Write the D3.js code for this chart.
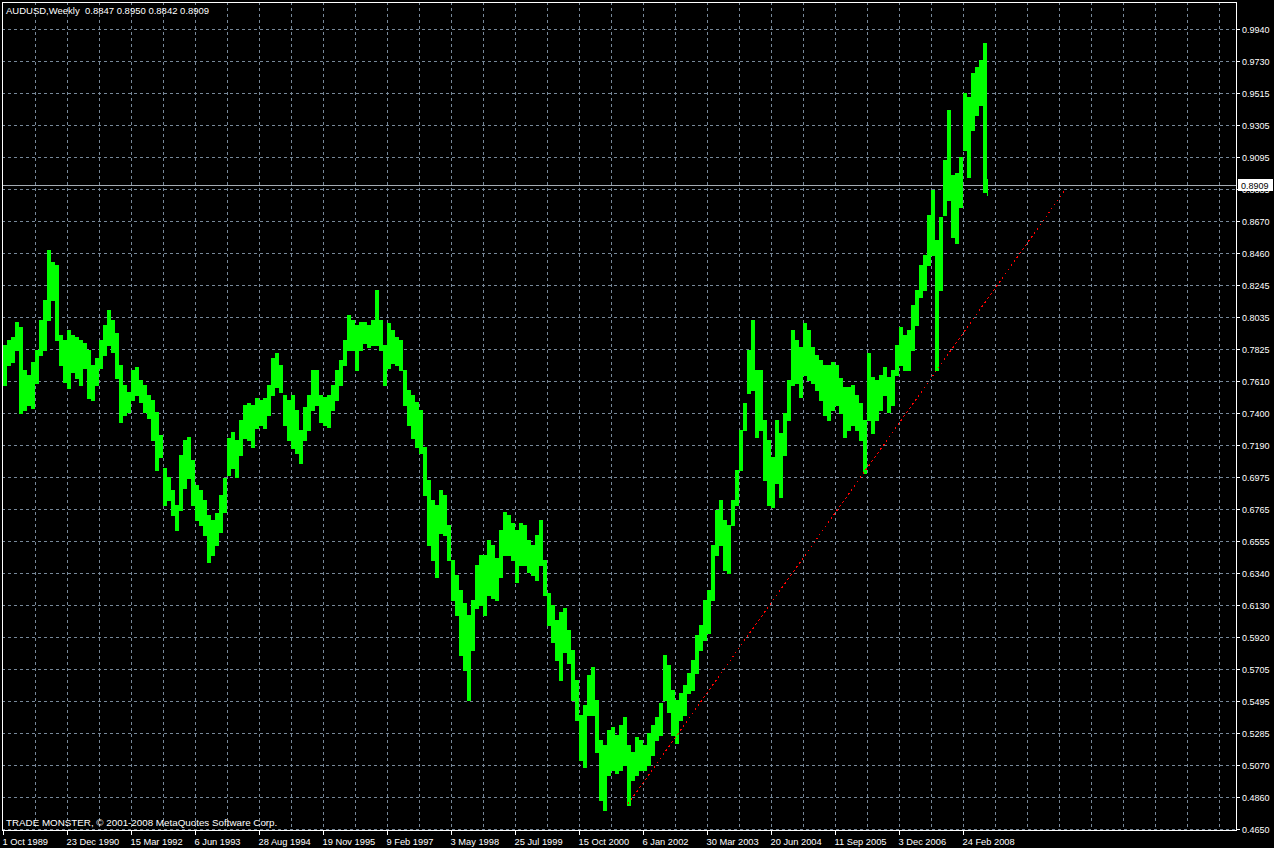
<!DOCTYPE html>
<html>
<head>
<meta charset="utf-8">
<script src="https://cdn.jsdelivr.net/npm/d3@7"></script>
<style>
  html, body { margin: 0; padding: 0; background: #000; }
  svg { display: block; }
  text { font-family: "Liberation Sans", Arial, sans-serif; white-space: pre; }
</style>
</head>
<body>
<svg id="chart" width="1274" height="848"></svg>
<script>
// ---------- DATA ----------
const symbol = "AUDUSD,Weekly";
const lastOHLC = [0.8847, 0.8950, 0.8842, 0.8909];
const currentPrice = 0.8909;
const copyright = "TRADE MONSTER, \u00A9 2001-2008 MetaQuotes Software Corp.";

// bars: one entry per 4 weeks (high / low), starting 1 Oct 1989; last entry = final week
const weeksPerBar = 4;
const totalWeeks = 985;
const highs = [
0.7850,0.7883,0.7903,0.8003,0.7970,0.7685,0.7652,0.7738,0.7817,0.8016,
0.8148,0.8479,0.8399,0.8379,0.7917,0.7883,0.7950,0.7917,0.7903,0.7883,
0.7863,0.7817,0.7718,0.7764,0.7883,0.7983,0.8082,0.8016,0.7930,0.7718,
0.7586,0.7540,0.7685,0.7705,0.7619,0.7586,0.7520,0.7487,0.7408,0.7255,
0.7037,0.6978,0.6892,0.6792,0.7123,0.7222,0.7242,0.7090,0.6925,0.6892,
0.6825,0.6726,0.6693,0.6739,0.6858,0.6971,0.7235,0.7275,0.7222,0.7354,
0.7454,0.7467,0.7454,0.7500,0.7487,0.7500,0.7586,0.7764,0.7797,0.7718,
0.7520,0.7487,0.7520,0.7421,0.7288,0.7441,0.7520,0.7685,0.7685,0.7520,
0.7507,0.7520,0.7586,0.7685,0.7751,0.7883,0.8049,0.8016,0.7983,0.8003,
0.8003,0.7983,0.8016,0.8214,0.8016,0.7850,0.7996,0.7950,0.7903,0.7883,
0.7685,0.7553,0.7520,0.7474,0.7421,0.7176,0.6958,0.6825,0.6792,0.6892,
0.6858,0.6660,0.6429,0.6330,0.6230,0.6144,0.6065,0.6164,0.6396,0.6462,
0.6462,0.6561,0.6528,0.6442,0.6627,0.6746,0.6726,0.6673,0.6627,0.6673,
0.6660,0.6561,0.6528,0.6594,0.6693,0.6429,0.6210,0.6131,0.6032,0.6085,
0.6111,0.5966,0.5834,0.5635,0.5404,0.5470,0.5668,0.5721,0.5503,0.5239,
0.5205,0.5305,0.5324,0.5272,0.5338,0.5391,0.5205,0.5159,0.5258,0.5239,
0.5205,0.5285,0.5338,0.5391,0.5483,0.5801,0.5734,0.5569,0.5503,0.5549,
0.5602,0.5681,0.5768,0.5933,0.5999,0.6164,0.6230,0.6528,0.6759,0.6825,
0.6693,0.6660,0.6825,0.7024,0.7288,0.7467,0.7817,0.8016,0.7685,0.7685,
0.7354,0.7222,0.7110,0.7354,0.7268,0.7401,0.7619,0.7950,0.7883,0.7837,
0.7996,0.7950,0.7837,0.7784,0.7751,0.7718,0.7718,0.7738,0.7718,0.7632,
0.7573,0.7573,0.7586,0.7520,0.7467,0.7354,0.7797,0.7639,0.7619,0.7652,
0.7705,0.7639,0.7685,0.7850,0.7970,0.7917,0.7950,0.8115,0.8214,0.8379,
0.8445,0.8710,0.8875,0.8545,0.8697,0.9074,0.9404,0.8975,0.8988,0.9094,
0.9517,0.9490,0.9649,0.9689,0.9735,0.9847,0.8950
];
const lows = [
0.7586,0.7718,0.7738,0.7817,0.7401,0.7421,0.7454,0.7434,0.7599,0.7784,
0.7817,0.8016,0.8148,0.7883,0.7718,0.7606,0.7566,0.7672,0.7632,0.7586,
0.7698,0.7500,0.7487,0.7586,0.7698,0.7784,0.7850,0.7804,0.7632,0.7341,
0.7388,0.7408,0.7487,0.7520,0.7474,0.7408,0.7368,0.7222,0.7024,0.7110,
0.6792,0.6825,0.6726,0.6627,0.6759,0.6905,0.6971,0.6792,0.6693,0.6660,
0.6594,0.6416,0.6462,0.6528,0.6614,0.6746,0.6991,0.7037,0.6978,0.7123,
0.7235,0.7222,0.7176,0.7302,0.7321,0.7302,0.7388,0.7520,0.7573,0.7540,
0.7321,0.7222,0.7169,0.7136,0.7070,0.7222,0.7288,0.7421,0.7454,0.7341,
0.7321,0.7308,0.7421,0.7487,0.7586,0.7718,0.7817,0.7817,0.7685,0.7817,
0.7863,0.7837,0.7850,0.7850,0.7817,0.7586,0.7698,0.7731,0.7718,0.7685,
0.7454,0.7321,0.7235,0.7176,0.7136,0.6858,0.6528,0.6429,0.6316,0.6607,
0.6594,0.6429,0.6164,0.6065,0.5801,0.5701,0.5503,0.5834,0.6111,0.6131,
0.6065,0.6197,0.6177,0.6164,0.6316,0.6462,0.6462,0.6429,0.6283,0.6396,
0.6396,0.6350,0.6330,0.6296,0.6396,0.6197,0.5999,0.5887,0.5768,0.5635,
0.5820,0.5748,0.5503,0.5371,0.5106,0.5060,0.5404,0.5404,0.5159,0.4842,
0.4776,0.5007,0.5040,0.5020,0.5040,0.5073,0.4809,0.4974,0.5007,0.5040,
0.5040,0.5073,0.5139,0.5239,0.5272,0.5503,0.5424,0.5272,0.5219,0.5371,
0.5404,0.5549,0.5569,0.5681,0.5834,0.5900,0.5946,0.6164,0.6462,0.6528,
0.6363,0.6343,0.6660,0.6792,0.7024,0.7288,0.7533,0.7553,0.7242,0.7288,
0.6958,0.6792,0.6779,0.6938,0.6845,0.7123,0.7354,0.7586,0.7599,0.7507,
0.7652,0.7619,0.7599,0.7553,0.7487,0.7388,0.7354,0.7421,0.7454,0.7401,
0.7242,0.7288,0.7321,0.7288,0.7222,0.7004,0.7354,0.7268,0.7354,0.7421,
0.7520,0.7408,0.7454,0.7652,0.7718,0.7685,0.7685,0.7817,0.7983,0.8168,
0.8214,0.8379,0.8445,0.7685,0.8214,0.8710,0.8809,0.8565,0.8525,0.8763,
0.9140,0.8961,0.9272,0.9371,0.9437,0.8860,0.8842
];

// axes
const yTickLabels = ["0.9940","0.9730","0.9515","0.9305","0.9095","0.8885","0.8670","0.8460","0.8245",
  "0.8035","0.7825","0.7610","0.7400","0.7190","0.6975","0.6765","0.6555","0.6340","0.6130",
  "0.5920","0.5705","0.5495","0.5285","0.5070","0.4860","0.4650"];
const xTickLabels = ["1 Oct 1989","23 Dec 1990","15 Mar 1992","6 Jun 1993","28 Aug 1994","19 Nov 1995",
  "9 Feb 1997","3 May 1998","25 Jul 1999","15 Oct 2000","6 Jan 2002","30 Mar 2003","20 Jun 2004",
  "11 Sep 2005","3 Dec 2006","24 Feb 2008"];
const weeksPerLabel = 64;
const weeksPerGrid = 32;

// trend line (week index, price)
const trendWeeks = [625, 1062];
const trendPrices = [0.4815, 0.8875];

// ---------- DRAW ----------
const W = 1274, H = 848;
const plot = { left: 2, right: 1236, top: 2, bottom: 830 };
const svg = d3.select("#chart");
svg.append("rect").attr("width", W).attr("height", H).attr("fill", "#000");

const x = d3.scaleLinear().domain([0, 1233]).range([3, 1236]);
const yMin = +yTickLabels[yTickLabels.length - 1], yMax = +yTickLabels[0];
const y = d3.scaleLinear().domain([yMin, yMax]).range([829, 29]);

const gridColor = "#778899";
const grid = svg.append("g").attr("shape-rendering", "crispEdges");

// horizontal grid
yTickLabels.forEach(t => {
  const yy = Math.round(y(+t)) + 0.5;
  grid.append("line").attr("x1", plot.left).attr("x2", plot.right)
    .attr("y1", yy).attr("y2", yy)
    .attr("stroke", gridColor).attr("stroke-width", 1).attr("stroke-dasharray", "3,3");
});
// vertical grid
for (let w = weeksPerGrid; x(w) < plot.right; w += weeksPerGrid) {
  const xx = Math.round(x(w)) + 0.5;
  grid.append("line").attr("x1", xx).attr("x2", xx)
    .attr("y1", plot.top).attr("y2", plot.bottom)
    .attr("stroke", gridColor).attr("stroke-width", 1).attr("stroke-dasharray", "3,3");
}

// current price line
const cpY = Math.round(y(currentPrice)) + 0.5;
svg.append("line").attr("x1", plot.left).attr("x2", plot.right)
  .attr("y1", cpY).attr("y2", cpY).attr("stroke", "#a4abb3").attr("stroke-width", 1)
  .attr("shape-rendering", "crispEdges");

// bars
const bars = highs.map((h, i) => {
  const ws = i * weeksPerBar;
  const len = Math.min(weeksPerBar, totalWeeks - ws);
  return { ws, len, high: h, low: lows[i] };
});
svg.append("g").attr("shape-rendering", "crispEdges")
  .selectAll("rect").data(bars).join("rect")
  .attr("x", d => x(d.ws))
  .attr("width", d => x(d.ws + d.len) - x(d.ws))
  .attr("y", d => Math.round(y(d.high)))
  .attr("height", d => Math.max(1, Math.round(y(d.low)) - Math.round(y(d.high)) + 1))
  .attr("fill", "#00ff00");

// trend line
svg.append("line")
  .attr("x1", x(trendWeeks[0])).attr("y1", y(trendPrices[0]))
  .attr("x2", x(trendWeeks[1])).attr("y2", y(trendPrices[1]))
  .attr("stroke", "#ff0000").attr("stroke-width", 1).attr("stroke-dasharray", "2,3")
  .attr("shape-rendering", "crispEdges");

// border
svg.append("rect").attr("x", plot.left + 0.5).attr("y", plot.top + 0.5)
  .attr("width", plot.right - plot.left).attr("height", plot.bottom - plot.top)
  .attr("fill", "none").attr("stroke", "#fff").attr("stroke-width", 1)
  .attr("shape-rendering", "crispEdges");

// y axis ticks & labels
const yAxis = svg.append("g");
yTickLabels.forEach(t => {
  const yy = Math.round(y(+t)) + 0.5;
  yAxis.append("line").attr("x1", plot.right).attr("x2", plot.right + 4)
    .attr("y1", yy).attr("y2", yy).attr("stroke", "#fff").attr("shape-rendering", "crispEdges");
  yAxis.append("text").attr("x", 1242).attr("y", yy + 3.5)
    .attr("fill", "#fff").attr("font-size", "9px").text(t);
});

// current price label (drawn over the axis label it covers)
svg.append("rect").attr("x", 1238).attr("y", cpY - 6.5).attr("width", 35).attr("height", 12)
  .attr("fill", "#fff");
svg.append("text").attr("x", 1241).attr("y", cpY + 3.5)
  .attr("fill", "#000").attr("font-size", "9px").text(d3.format(".4f")(currentPrice));

// x axis ticks & labels
const xAxis = svg.append("g");
xTickLabels.forEach((t, i) => {
  const xx = Math.round(x(i * weeksPerLabel)) + 0.5;
  xAxis.append("line").attr("x1", xx).attr("x2", xx)
    .attr("y1", plot.bottom).attr("y2", plot.bottom + 5)
    .attr("stroke", "#fff").attr("shape-rendering", "crispEdges");
  xAxis.append("text").attr("x", xx - 1).attr("y", 845)
    .attr("fill", "#fff").attr("font-size", "9.3px").text(t);
});

// title & copyright
svg.append("text").attr("x", 6).attr("y", 14).attr("fill", "#fff").attr("font-size", "9.5px")
  .text(symbol + "  " + lastOHLC.map(v => d3.format(".4f")(v)).join(" "));
svg.append("text").attr("x", 6).attr("y", 826).attr("fill", "#fff").attr("font-size", "9.8px")
  .text(copyright);
</script>
</body>
</html>
